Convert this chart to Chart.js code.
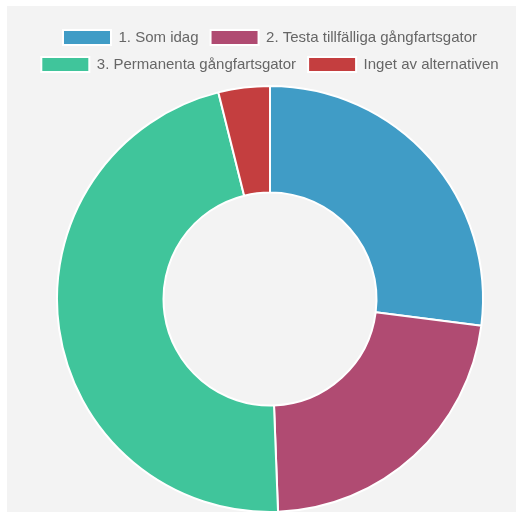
<!DOCTYPE html>
<html>
<head>
<meta charset="utf-8">
<script src="https://cdn.jsdelivr.net/npm/chart.js@4/dist/chart.umd.min.js"></script>
<style>
    html, body { margin: 0; padding: 0; background: #fff; overflow: hidden; }
    #wrap {
        position: absolute;
        left: 7px;
        top: 6px;
        width: 526px;
        height: 507px;
        background: #f3f3f3;
    }
</style>
</head>
<body>
<div id="wrap"><canvas id="voteChart"></canvas></div>
<script>
const labels = [
    "1. Som idag",
    "2. Testa tillfälliga gångfartsgator",
    "3. Permanenta gångfartsgator",
    "Inget av alternativen"
];
const shares = [27.0, 22.4, 46.7, 3.9];
const colors = ["#409cc6", "#b04b72", "#40c59b", "#c43e3f"];

// a bit of space under the legend
const legendGap = {
    id: "legendGap",
    beforeInit(chart) {
        const origFit = chart.legend.fit;
        chart.legend.fit = function() {
            origFit.bind(chart.legend)();
            this.height += 3;
        };
    }
};

function init() {
    const ctx = document.getElementById("voteChart").getContext("2d");
    new Chart(ctx, {
        type: "doughnut",
        data: {
            labels: labels,
            datasets: [{
                data: shares,
                backgroundColor: colors,
                borderColor: "#ffffff",
                borderWidth: 2
            }]
        },
        options: {
            responsive: true,
            maintainAspectRatio: false,
            animation: false,
            cutout: "50%",
            layout: { padding: { top: 12 } },
            plugins: {
                legend: {
                    position: "top",
                    labels: {
                        color: "#666",
                        font: { family: "'Liberation Sans', Arial, sans-serif", size: 15 },
                        boxWidth: 48,
                        boxHeight: 15,
                        padding: 12
                    }
                },
                tooltip: { enabled: false }
            }
        },
        plugins: [legendGap]
    });
}

document.addEventListener("DOMContentLoaded", init);
</script>
</body>
</html>
